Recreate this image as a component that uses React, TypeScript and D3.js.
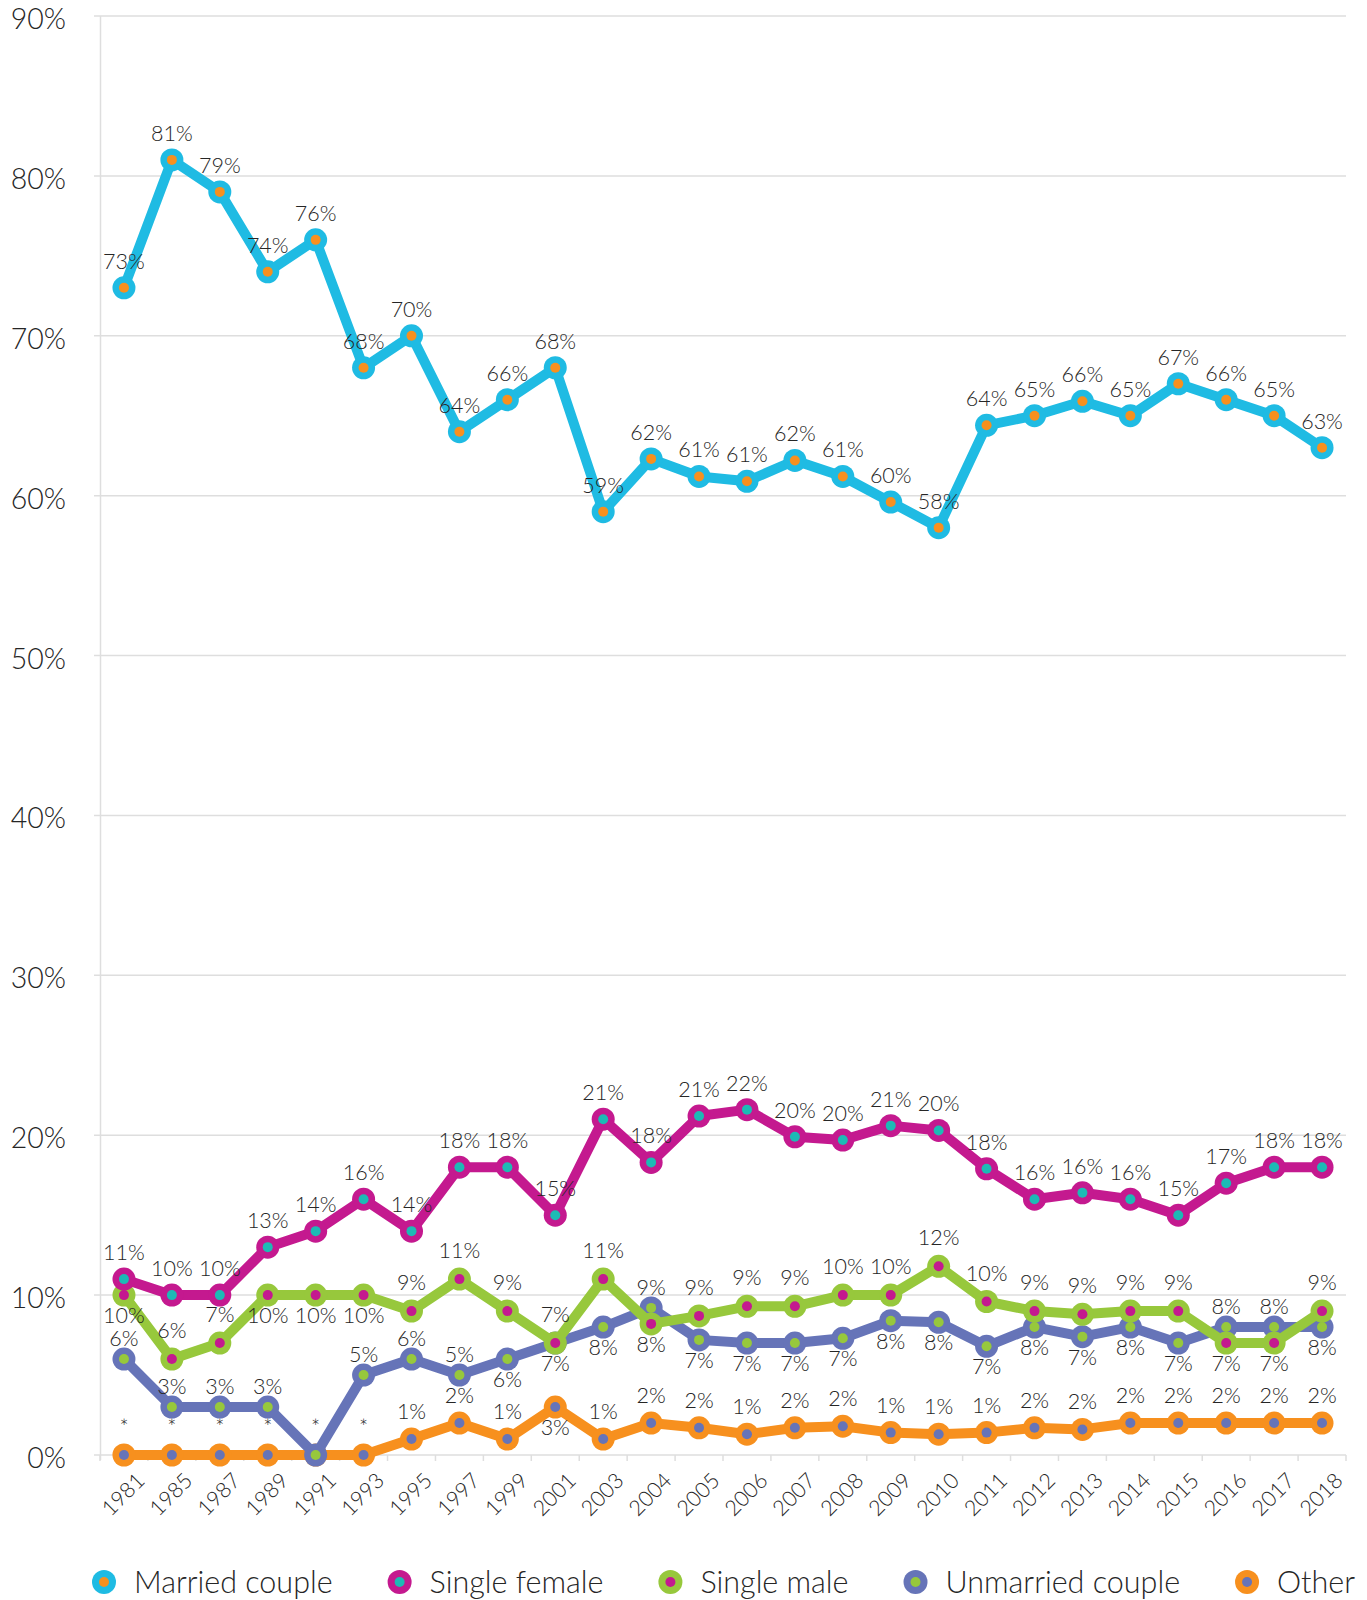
import React, { useEffect, useRef } from 'react';
import * as d3 from 'd3';

const years = ['1981', '1985', '1987', '1989', '1991', '1993', '1995', '1997', '1999', '2001', '2003', '2004', '2005',
  '2006', '2007', '2008', '2009', '2010', '2011', '2012', '2013', '2014', '2015', '2016', '2017', '2018'];

const married = [73, 81, 79, 74, 76, 68, 70, 64, 66, 68, 59, 62.3, 61.2, 60.9, 62.2, 61.2, 59.6, 58, 64.4, 65, 65.9, 65, 67, 66, 65, 63];
const singleFemale = [11, 10, 10, 13, 14, 16, 14, 18, 18, 15, 21, 18.3, 21.2, 21.6, 19.9, 19.7, 20.6, 20.3, 17.9, 16, 16.4, 16, 15, 17, 18, 18];
const singleMale = [10, 6, 7, 10, 10, 10, 9, 11, 9, 7, 11, 8.2, 8.7, 9.3, 9.3, 10, 10, 11.8, 9.6, 9, 8.8, 9, 9, 7, 7, 9];
const unmarried = [6, 3, 3, 3, 0, 5, 6, 5, 6, 7, 8, 9.2, 7.2, 7, 7, 7.3, 8.4, 8.3, 6.8, 8, 7.4, 8, 7, 8, 8, 8];
const other = [0, 0, 0, 0, 0, 0, 1, 2, 1, 3, 1, 2, 1.7, 1.3, 1.7, 1.8, 1.4, 1.3, 1.4, 1.7, 1.6, 2, 2, 2, 2, 2];

// where each value label sits: a = above, b = below, n = none
const marriedSide = years.map(() => 'a');
const femaleSide = years.map(() => 'a');
const maleSide = ['b', 'a', 'a', 'b', 'b', 'b', 'a', 'a', 'a', 'a', 'a', 'b', 'a', 'a', 'a', 'a', 'a', 'a', 'a', 'a', 'a', 'a', 'a', 'b', 'b', 'a'];
const unmarriedSide = ['a', 'a', 'a', 'a', 'n', 'a', 'a', 'a', 'b', 'b', 'b', 'a', 'b', 'b', 'b', 'b', 'b', 'b', 'b', 'b', 'b', 'b', 'b', 'a', 'a', 'b'];
const otherSide = ['a', 'a', 'a', 'a', 'a', 'a', 'a', 'a', 'a', 'b', 'a', 'a', 'a', 'a', 'a', 'a', 'a', 'a', 'a', 'a', 'a', 'a', 'a', 'a', 'a', 'a'];

const yTicks = [0, 10, 20, 30, 40, 50, 60, 70, 80, 90];

type Series = { name: string, values: number[], sides: string[], color: string, dot: string, up: number }

const series: Series[] = [
  { name: 'Married couple', values: married, sides: marriedSide, color: '#1fbbe3', dot: '#f7901e', up: 19 },
  { name: 'Single female', values: singleFemale, sides: femaleSide, color: '#c4198f', dot: '#1dbab5', up: 19 },
  { name: 'Single male', values: singleMale, sides: maleSide, color: '#97c83c', dot: '#c4198f', up: 21 },
  { name: 'Unmarried couple', values: unmarried, sides: unmarriedSide, color: '#6674b8', dot: '#97c83c', up: 13 },
  { name: 'Other', values: other, sides: otherSide, color: '#f7901e', dot: '#6674b8', up: 20 },
];

const W = 1367;
const H = 1600;
const FONT = 'Lato, "Open Sans", sans-serif';
const TEXT = '#262626';

function App() {
  const svgRef = useRef<SVGSVGElement | null>(null);

  useEffect(() => {
    document.body.style.margin = '0';
    const svg = d3.select(svgRef.current);
    svg.selectAll('*').remove();

    const x = d3.scaleBand().domain(years).range([100, 1346]);
    const y = d3.scaleLinear().domain([0, 90]).range([1455, 16]);
    const cx = (d: string) => (x(d) ?? 0) + x.bandwidth() / 2;

    // grid + y labels
    const grid = svg.append('g');
    grid.selectAll('line').data(yTicks).join('line')
      .attr('x1', 94).attr('x2', 1346)
      .attr('y1', d => y(d)).attr('y2', d => y(d))
      .attr('stroke', '#dedede').attr('stroke-width', 1.5);
    grid.selectAll('text').data(yTicks).join('text')
      .attr('x', 66).attr('y', d => y(d) + 13)
      .attr('text-anchor', 'end')
      .attr('font-family', FONT).attr('font-weight', 300).attr('font-size', 28.5).attr('fill', TEXT)
      .text(d => d + '%');
    grid.append('line')
      .attr('x1', 100.5).attr('x2', 100.5).attr('y1', y(90)).attr('y2', 1460)
      .attr('stroke', '#dedede').attr('stroke-width', 1.5);

    // x ticks at band edges
    const edges = d3.range(years.length + 1).map(i => 100 + i * x.bandwidth());
    grid.selectAll('.tick').data(edges).join('line')
      .attr('class', 'tick')
      .attr('x1', d => d).attr('x2', d => d).attr('y1', 1455).attr('y2', 1461)
      .attr('stroke', '#dedede').attr('stroke-width', 1.5);

    svg.append('g').selectAll('text').data(years).join('text')
      .attr('transform', d => `translate(${cx(d) + 22},${1482}) rotate(-45)`)
      .attr('text-anchor', 'end')
      .attr('font-family', FONT).attr('font-weight', 300).attr('font-size', 21.5).attr('fill', TEXT)
      .text(d => d);

    // series, drawn back to front
    const line = d3.line<number>()
      .x((_, i) => cx(years[i]))
      .y(d => y(d));

    const drawOrder = [...series].reverse();
    drawOrder.forEach(s => {
      const g = svg.append('g');
      g.append('path')
        .attr('d', line(s.values))
        .attr('fill', 'none')
        .attr('stroke', s.color)
        .attr('stroke-width', 10)
        .attr('stroke-linejoin', 'round');
      g.selectAll('.outer').data(s.values).join('circle')
        .attr('class', 'outer')
        .attr('cx', (_, i) => cx(years[i])).attr('cy', d => y(d))
        .attr('r', 11.5).attr('fill', s.color);
      g.selectAll('.inner').data(s.values).join('circle')
        .attr('class', 'inner')
        .attr('cx', (_, i) => cx(years[i])).attr('cy', d => y(d))
        .attr('r', 5).attr('fill', s.dot);
    });

    // value labels
    const labels = svg.append('g')
      .attr('font-family', FONT).attr('font-weight', 300).attr('font-size', 21.5).attr('fill', TEXT)
      .attr('text-anchor', 'middle');
    series.forEach(s => {
      s.values.forEach((v, i) => {
        const side = s.sides[i];
        if (side === 'n') return;
        labels.append('text')
          .attr('x', cx(years[i]))
          .attr('y', y(v) + (side === 'a' ? -s.up : 28))
          .text(v === 0 ? '*' : Math.round(v) + '%');
      });
    });

    // legend
    const legend = svg.append('g');
    let lx = 104;
    series.forEach(s => {
      legend.append('circle').attr('cx', lx).attr('cy', 1582).attr('r', 12).attr('fill', s.color);
      legend.append('circle').attr('cx', lx).attr('cy', 1582).attr('r', 5).attr('fill', s.dot);
      const t = legend.append('text')
        .attr('x', lx + 30).attr('y', 1593)
        .attr('font-family', FONT).attr('font-weight', 300).attr('font-size', 30.5).attr('fill', TEXT)
        .text(s.name);
      const w = (t.node() as SVGTextElement).getComputedTextLength();
      lx = lx + 30 + w + 67;
    });
  }, []);

  return (
    <div>
      <svg ref={svgRef} width={W} height={H} style={{ display: 'block', background: '#fff' }} />
    </div>
  );
}

export default App;
